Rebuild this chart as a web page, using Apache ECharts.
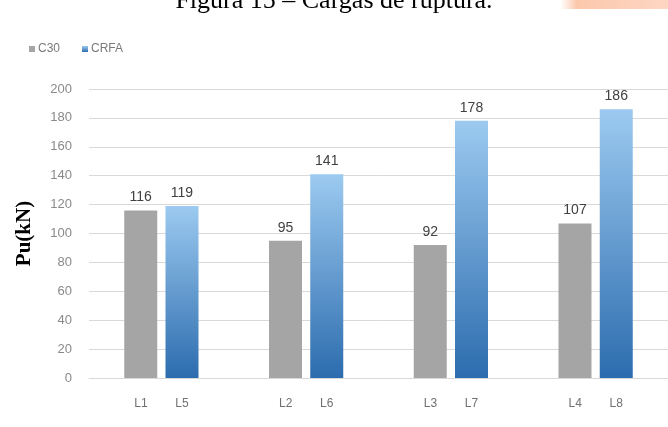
<!DOCTYPE html>
<html>
<head>
<meta charset="utf-8">
<script src="https://cdn.jsdelivr.net/npm/echarts@6/dist/echarts.min.js"></script>
<style>html,body{margin:0;padding:0;background:#fff;}#c{width:668px;height:427px;}</style>
</head>
<body>
<div id="c"></div>
<script>
const titleText = 'Figura 15 – Cargas de ruptura.';
const c30Names = ['L1', 'L2', 'L3', 'L4'];
const crfaNames = ['L5', 'L6', 'L7', 'L8'];
const c30Values = [116, 95, 92, 107];
const crfaValues = [119, 141, 178, 186];
const seriesNames = ['C30', 'CRFA'];
const yTicks = [0, 20, 40, 60, 80, 100, 120, 140, 160, 180, 200];

const categories = c30Names.map((n, i) => n + '|' + crfaNames[i]);
const chart = echarts.init(document.getElementById('c'));
chart.setOption({
  backgroundColor: '#fff',
  animation: false,
  title: {
    text: titleText, left: 'center', top: -17,
    textStyle: { fontFamily: 'Liberation Serif', fontSize: 26, fontWeight: 'normal', color: '#000' }
  },
  graphic: [{
    type: 'rect', shape: { x: 560, y: 0, width: 108, height: 9 },
    style: { fill: new echarts.graphic.LinearGradient(0, 0, 1, 0, [
      { offset: 0, color: 'rgba(253,211,189,0)' },
      { offset: 0.15, color: 'rgba(252,200,172,1)' },
      { offset: 1, color: 'rgba(253,214,194,1)' }]) }
  }],
  legend: {
    left: 24, top: 38, itemWidth: 6, itemHeight: 6, itemGap: 22,
    icon: 'rect',
    textStyle: { fontFamily: 'Liberation Sans', fontSize: 12, color: '#7a7a7a', padding: [0, 0, 0, -2] },
    data: seriesNames
  },
  grid: { left: 89, right: -3, top: 89, bottom: 49, containLabel: false },
  xAxis: {
    type: 'category', data: categories,
    axisLine: { show: true, lineStyle: { color: '#d9d9d9' } },
    axisTick: { show: false },
    axisLabel: {
      margin: 20,
      formatter: v => { const p = v.split('|'); return '{a|' + p[0] + '}{a|' + p[1] + '}'; },
      rich: { a: { width: 41, align: 'center', fontFamily: 'Liberation Sans', fontSize: 12, color: '#707070' } }
    }
  },
  yAxis: {
    type: 'value', min: 0, max: 200, interval: 20,
    name: 'Pu(kN)', nameLocation: 'middle', nameGap: 54, nameRotate: 90,
    nameTextStyle: { fontFamily: 'Liberation Serif', fontSize: 21, fontWeight: 'bold', color: '#000' },
    axisLine: { show: false }, axisTick: { show: false },
    axisLabel: {
      margin: 17, fontFamily: 'Liberation Sans', fontSize: 13, color: '#8a8a8a',
      formatter: v => yTicks.includes(v) ? String(v) : ''
    },
    splitLine: { lineStyle: { color: '#d9d9d9', width: 1 } }
  },
  series: [
    {
      name: seriesNames[0], type: 'bar', data: c30Values,
      barWidth: 33, barGap: '25%',
      itemStyle: { color: '#a5a5a5' },
      label: { show: true, position: 'top', distance: 6, fontFamily: 'Liberation Sans', fontSize: 14, color: '#404040' }
    },
    {
      name: seriesNames[1], type: 'bar', data: crfaValues,
      barWidth: 33,
      itemStyle: { color: new echarts.graphic.LinearGradient(0, 0, 0, 1, [
        { offset: 0, color: '#9ccaf0' }, { offset: 1, color: '#2c6cae' }]) },
      label: { show: true, position: 'top', distance: 6, fontFamily: 'Liberation Sans', fontSize: 14, color: '#404040' }
    }
  ]
});
</script>
</body>
</html>
